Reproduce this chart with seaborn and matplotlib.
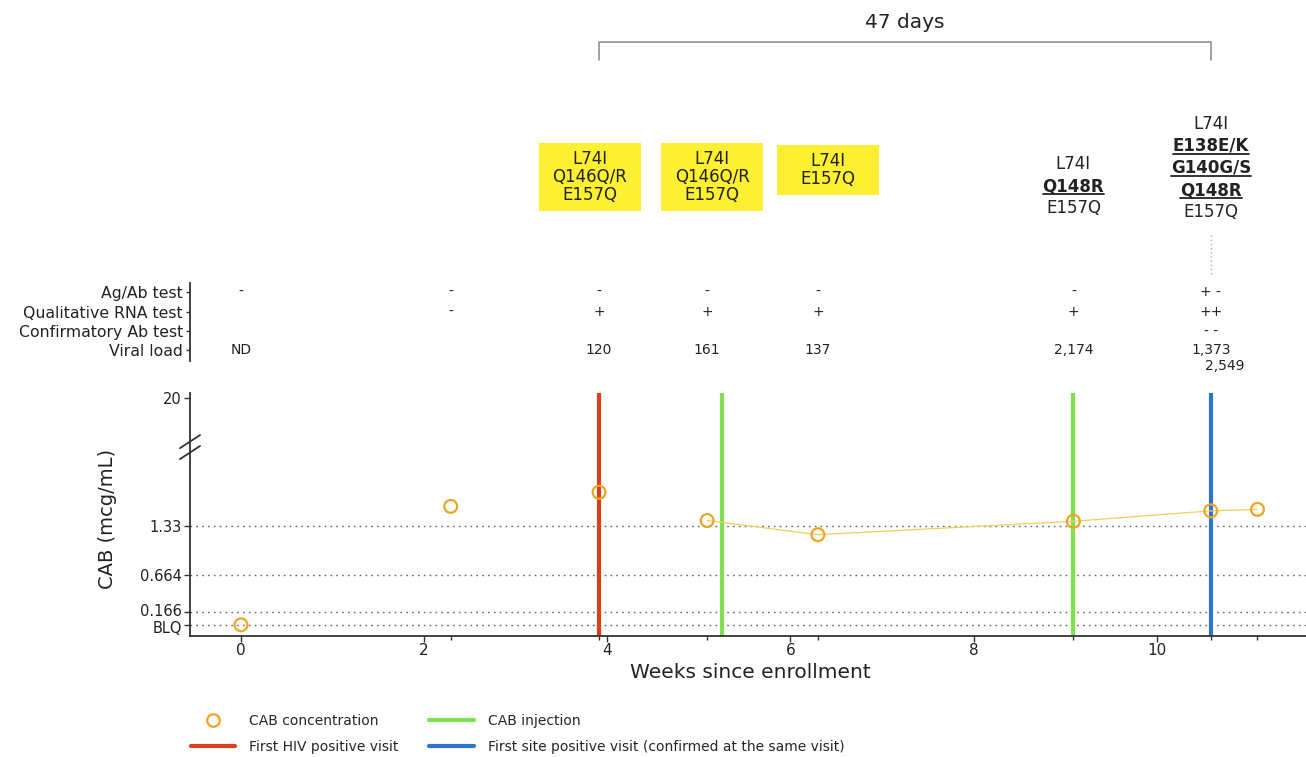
import numpy as np
import pandas as pd
import matplotlib
matplotlib.use("Agg")
import matplotlib.pyplot as plt
import seaborn as sns
from matplotlib.transforms import (blended_transform_factory, IdentityTransform,
                                   offset_copy, ScaledTranslation)
from matplotlib.lines import Line2D
from matplotlib.patches import Rectangle

# ---------------- data ----------------
visit_weeks = [0, 2.29, 3.91, 5.09, 6.30, 9.09, 10.59, 11.10]
cab_conc = [0.0, 1.59, 1.78, 1.40, 1.21, 1.39, 1.53, 1.55]
connect_from = 3  # points from this visit on are joined by a line

injection_weeks = [5.25, 9.09]
first_positive_week = 3.91
site_positive_week = 10.59

ytick_vals = [0, 0.166, 0.664, 1.33, 20]
ytick_labels = ["BLQ", "0.166", "0.664", "1.33", "20"]
dotted_levels = [0, 0.166, 0.664, 1.33]
xtick_vals = [0, 2, 4, 6, 8, 10]

table_rows = ["Ag/Ab test", "Qualitative RNA test", "Confirmatory Ab test", "Viral load"]
table_weeks = [0, 2.29, 3.91, 5.09, 6.30, 9.09, 10.59]
agab = ["-", "-", "-", "-", "-", "-", "+ -"]
rna = ["", "-", "+", "+", "+", "+", "++"]
confirm = ["", "", "", "", "", "", "- -"]
viral = ["ND", "", "120", "161", "137", "2,174", "1,373"]
viral_extra = "2,549"

mut_weeks = [3.91, 5.09, 6.30, 9.09, 10.59]
mutations = [["L74I", "Q146Q/R", "E157Q"],
             ["L74I", "Q146Q/R", "E157Q"],
             ["L74I", "E157Q"],
             ["L74I", "Q148R", "E157Q"],
             ["L74I", "E138E/K", "G140G/S", "Q148R", "E157Q"]]
mut_highlight = [True, True, True, False, False]
resistance_muts = {"Q148R", "E138E/K", "G140G/S"}
bracket_label = "47 days"

# ---------------- style ----------------
sns.set_style("ticks")
plt.rcParams["font.family"] = ["DejaVu Sans"]

ORANGE = "#eda521"
RED = "#d8401c"
GREEN = "#7fe050"
BLUE = "#2e74c9"
YELLOW = "#fdf032"
AXC = "#333333"
TXT = "#222222"

W, H = 1306, 757
fig = plt.figure(figsize=(W / 100, H / 100), dpi=100)

def fx(px):
    return px / W

def fy(py):
    return 1 - py / H

# main axes
ax = fig.add_axes([fx(190), fy(636), 1 - fx(190), fy(393) - fy(636)])

B, K = 2.5, 0.0314
def fwd(y):
    y = np.asarray(y, dtype=float)
    return np.where(y <= B, y, B + (y - B) * K)
def inv(t):
    t = np.asarray(t, dtype=float)
    return np.where(t <= B, t, B + (t - B) / K)
ax.set_yscale("function", functions=(fwd, inv))
ax.set_ylim(-0.15, 22)
ax.set_xlim(-0.557, 11.63)

for lv in dotted_levels:
    ax.axhline(lv, color="#666666", lw=1.0, ls=(0, (1.2, 3)), zorder=1)

ax.axvline(first_positive_week, color=RED, lw=3, zorder=2)
for w in injection_weeks:
    ax.axvline(w, color=GREEN, lw=3, zorder=2)
ax.axvline(site_positive_week, color=BLUE, lw=3, zorder=2)

df = pd.DataFrame({"week": visit_weeks, "cab": cab_conc})
sns.lineplot(data=df.iloc[connect_from:], x="week", y="cab", ax=ax,
             color="#f3cf5a", lw=0.9, zorder=3)
sns.scatterplot(data=df, x="week", y="cab", ax=ax, s=85, facecolor="none",
                edgecolor=ORANGE, linewidth=1.6, zorder=4, clip_on=False)

ax.set_yticks(ytick_vals)
ax.set_yticklabels(ytick_labels, fontsize=10.5, color=TXT)
ax.set_xticks(xtick_vals)
ax.set_xticklabels([str(v) for v in xtick_vals], fontsize=11, color=TXT)
ax.set_xticks(visit_weeks, minor=True)
ax.yaxis.set_minor_locator(matplotlib.ticker.NullLocator())
ax.tick_params(axis="both", which="major", length=4, width=1, color=AXC)
ax.tick_params(axis="x", which="major", pad=1)
ax.tick_params(axis="y", which="major", pad=2)
ax.tick_params(axis="x", which="minor", length=3, width=1, color=AXC)
for s in ["top", "right"]:
    ax.spines[s].set_visible(False)
for s in ["left", "bottom"]:
    ax.spines[s].set_color(AXC)
    ax.spines[s].set_linewidth(1.3)

# nudge the two crowded bottom tick labels apart
ylabels = ax.get_yticklabels()
ylabels[0].set_transform(ylabels[0].get_transform() + ScaledTranslation(0, -2.5 / 100, fig.dpi_scale_trans))
ylabels[1].set_transform(ylabels[1].get_transform() + ScaledTranslation(0, 2.5 / 100, fig.dpi_scale_trans))

ax.set_xlabel("Weeks since enrollment", fontsize=14.5, color=TXT)
ax.xaxis.set_label_coords(0.502, -0.11)
ax.set_ylabel("CAB (mcg/mL)", fontsize=14, color=TXT)
ax.yaxis.set_label_coords(-0.065, 0.48)

# axis break marks
for yc in (0.755, 0.80):
    ax.plot([-0.009, 0.009], [yc - 0.027, yc + 0.027], transform=ax.transAxes,
            color=AXC, lw=1.3, clip_on=False)

# ---------------- table axes ----------------
tax = fig.add_axes([fx(190), fy(361), 1 - fx(190), fy(283) - fy(361)], sharex=ax)
tax.set_ylim(3.55, -0.47)
tax.set_yticks(range(len(table_rows)))
tax.set_yticklabels(table_rows, fontsize=11.3, color=TXT)
tax.tick_params(axis="y", length=3, width=1, color=AXC, pad=2)
tax.tick_params(axis="x", which="both", bottom=False, labelbottom=False)
for s in ["top", "right", "bottom"]:
    tax.spines[s].set_visible(False)
tax.spines["left"].set_color(AXC)
tax.spines["left"].set_linewidth(1.3)
tax.set_facecolor("none")
for row, vals in enumerate([agab, rna, confirm, viral]):
    for w, v in zip(table_weeks, vals):
        if v:
            tax.text(w, row, v, ha="center", va="center", fontsize=10, color=TXT)
tax.text(table_weeks[-1] + 0.15, 3.8, viral_extra, ha="center", va="center",
         fontsize=10, color=TXT, clip_on=False)

# ---------------- mutation labels ----------------
btr = blended_transform_factory(ax.transData, fig.transFigure)
mut_centers_px = [176.5, 176.5, 170, 186, 168]
mut_dx_px = [-9, 5, 10, 0, 0]
line_px = 22
underline_texts = []
box_texts = []
for w, muts, hl, cy, dx in zip(mut_weeks, mutations, mut_highlight, mut_centers_px, mut_dx_px):
    tr = offset_copy(btr, fig=fig, x=dx, y=0, units="dots")
    if hl:
        t = fig.text(w, fy(cy), "\n".join(muts), ha="center", va="center", fontsize=12,
                     color=TXT, linespacing=1.0, transform=tr, zorder=3)
        box_texts.append(t)
    else:
        n = len(muts)
        for i, m in enumerate(muts):
            ly = cy + (i - (n - 1) / 2) * line_px
            bold = m in resistance_muts
            t = fig.text(w, fy(ly), m, ha="center", va="center", fontsize=12,
                         color=TXT, fontweight="bold" if bold else "normal", transform=tr)
            if bold:
                underline_texts.append(t)

renderer = fig.canvas.get_renderer()
# yellow highlight boxes (fixed width)
for t in box_texts:
    bb = t.get_window_extent(renderer)
    cxp = (bb.x0 + bb.x1) / 2
    wbox = max(102, bb.width + 16)
    fig.add_artist(Rectangle((cxp - wbox / 2, bb.y0 - 7), wbox, bb.height + 14,
                             transform=IdentityTransform(), facecolor=YELLOW,
                             edgecolor="none", zorder=0.5))
# underline resistance mutations
for t in underline_texts:
    bb = t.get_window_extent(renderer)
    fig.add_artist(Line2D([bb.x0, bb.x1], [bb.y0 + 1, bb.y0 + 1],
                          transform=IdentityTransform(), color=TXT, lw=1.3))

# dotted connector under last label
fig.add_artist(Line2D([site_positive_week, site_positive_week], [fy(235), fy(276)],
                      transform=btr, color="#aaaaaa", lw=1, ls=(0, (1, 2))))

# bracket
fig.add_artist(Line2D([first_positive_week, first_positive_week, site_positive_week, site_positive_week],
                      [fy(60), fy(42), fy(42), fy(60)], transform=btr, color="#888888", lw=1.1))
fig.text((first_positive_week + site_positive_week) / 2, fy(22), bracket_label,
         transform=btr, ha="center", va="center", fontsize=14.5, color=TXT)

# ---------------- legend ----------------
handles = [
    Line2D([], [], marker="o", ls="none", markerfacecolor="none", markeredgecolor=ORANGE,
           markeredgewidth=1.6, markersize=9, label="CAB concentration"),
    Line2D([], [], color=RED, lw=3, label="First HIV positive visit"),
    Line2D([], [], color=GREEN, lw=3, label="CAB injection"),
    Line2D([], [], color=BLUE, lw=3, label="First site positive visit (confirmed at the same visit)"),
]
fig.legend(handles=handles, loc="upper left", bbox_to_anchor=(fx(191), fy(714)), ncol=2,
           frameon=False, fontsize=10, handlelength=3.2, columnspacing=2.2,
           labelspacing=0.85, handletextpad=1.0, borderpad=0, borderaxespad=0)

fig.savefig("out.png", dpi=100)
